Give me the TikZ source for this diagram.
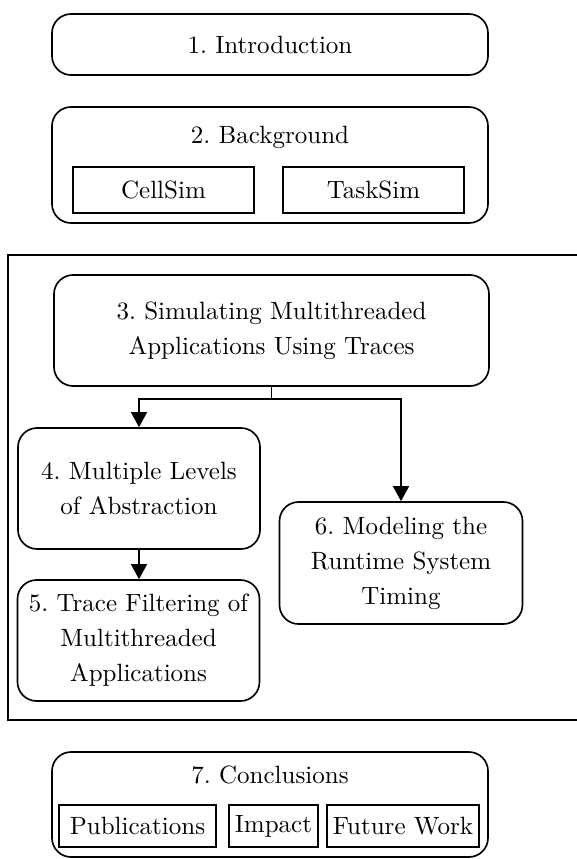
\documentclass[tikz,border=0pt]{standalone}
\usetikzlibrary{arrows.meta}
\def\pxu{0.42pt}
\begin{document}
\begin{tikzpicture}[x=0.42pt,y=-0.42pt,
  every node/.style={font=\fontsize{10.5}{14.7}\selectfont\frenchspacing, inner sep=0pt, align=center},
  rbox/.style={draw, line width=0.7pt, rounded corners=8pt},
  sbox/.style={draw, line width=0.7pt},
  tip/.style={-{Triangle[width=6.7pt,length=6.3pt]}, line width=0.7pt}]
\useasboundingbox (0,0) rectangle (576,859);
% 1
\node[rbox, minimum width=436*\pxu, minimum height=61*\pxu] (intro) at (270,44.5) {1. Introduction};
% 2
\node[rbox, minimum width=436*\pxu, minimum height=116*\pxu] (bg) at (270,165) {};
\node (bgt) at (270,137) {2. Background};
\node[sbox, minimum width=181*\pxu, minimum height=46*\pxu] (cellsim) at (163.5,190) {CellSim};
\node[sbox, minimum width=181*\pxu, minimum height=46*\pxu] (tasksim) at (373.5,190) {TaskSim};
% frame
\node[sbox, minimum width=574*\pxu, minimum height=465*\pxu] (frame) at (295,487.5) {};
% 3-6
\node[rbox, minimum width=435*\pxu, minimum height=111*\pxu] (s3) at (271.5,330.5) {3. Simulating Multithreaded\\Applications Using Traces};
\node[rbox, minimum width=242*\pxu, minimum height=121*\pxu] (s4) at (139,488.5) {4. Multiple Levels\\of Abstraction};
\node[rbox, minimum width=242*\pxu, minimum height=121*\pxu] (s5) at (138.5,640.5) {5. Trace Filtering of\\Multithreaded\\Applications};
\node[rbox, minimum width=243*\pxu, minimum height=122*\pxu] (s6) at (401,563) {6. Modeling the\\Runtime System\\Timing};
\draw[line width=0.7pt] (s3.south) -- ++(0,12) coordinate (j);
\draw[tip] (j) -| (s4.north);
\draw[tip] (j) -| (s6.north);
\draw[tip] (s4.south) -- (s4.south |- s5.north);
% 7
\node[rbox, minimum width=436*\pxu, minimum height=105*\pxu] (concl) at (270,804.5) {};
\node (conclt) at (270,775) {7. Conclusions};
\node[sbox, minimum width=157*\pxu, minimum height=42*\pxu] (pub) at (137.5,826) {Publications};
\node[sbox, minimum width=89*\pxu, minimum height=42*\pxu] (imp) at (273.5,826) {Impact};
\node[sbox, minimum width=152*\pxu, minimum height=42*\pxu] (fw) at (403,826) {Future Work};
\end{tikzpicture}
\end{document}
